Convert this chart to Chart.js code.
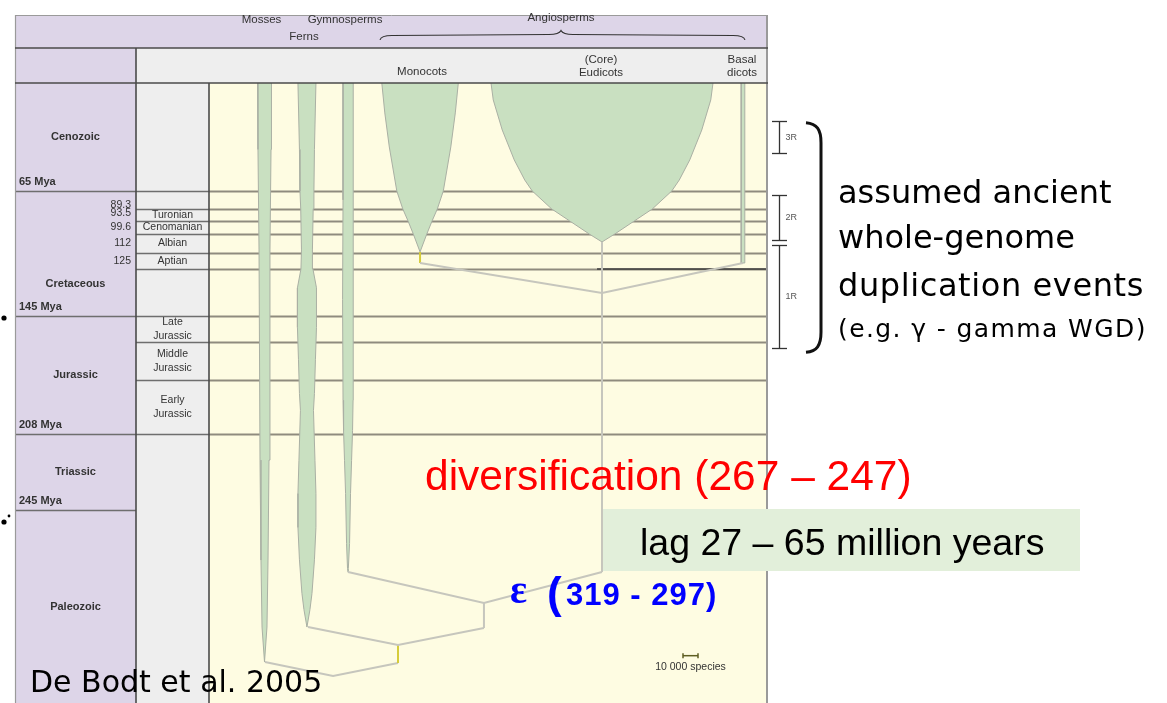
<!DOCTYPE html>
<html>
<head>
<meta charset="utf-8">
<title>Plant lineages through geological time</title>
<script src="https://cdn.jsdelivr.net/npm/chart.js@4.4.1/dist/chart.umd.min.js"></script>
<style>
html,body{margin:0;padding:0;background:#ffffff;overflow:hidden;}
#wrap{position:relative;width:1167px;height:703px;}
canvas{display:block;}
</style>
</head>
<body>
<div id="wrap"><canvas id="chart" width="1167" height="703"></canvas></div>
<script>
// ====================== DATA ======================
// geological time scale, Mya
const eraNames      = ['Cenozoic', 'Cretaceous', 'Jurassic', 'Triassic', 'Paleozoic'];
const eraStart      = [0, 65, 145, 208, 245];
const eraEnd        = [65, 145, 208, 245, 400];
const eraBaseLabels = ['65 Mya', '145 Mya', '208 Mya', '245 Mya', ''];
const stageNames    = ['Turonian', 'Cenomanian', 'Albian', 'Aptian', 'Late\nJurassic', 'Middle\nJurassic', 'Early\nJurassic'];
const stageStart    = [89.3, 93.5, 99.6, 112, 145, 161, 176];
const stageEnd      = [93.5, 99.6, 112, 125, 161, 176, 208];
const cretaceousTicks = [89.3, 93.5, 99.6, 112, 125];
const boundaryAges  = [65, 89.3, 93.5, 99.6, 112, 125, 145, 161, 176, 208];

// lineages: lane on the species axis (thousand species) and richness through time
const lineageNames   = ['Mosses', 'Ferns', 'Gymnosperms', 'Monocots', 'Eudicots', 'Basal dicots'];
const lineageHeaders = [['Mosses'], ['Ferns'], ['Gymnosperms'], ['Monocots'], ['(Core)', 'Eudicots'], ['Basal', 'dicots']];
const lineageLane    = [37, 65.3, 92.7, 140.7, 262, 356];

const mossAges    = [0, 40, 110, 220.7, 285.2, 339, 367];
const mossSpecies = [9.3, 8.7, 7.3, 6, 4.7, 3.3, 0];
const fernAges    = [0, 40, 65, 89, 110, 125, 133, 152, 168, 184, 194, 221, 237, 259, 285, 312, 325, 339];
const fernSpecies = [12, 10, 9.3, 8.3, 7.3, 8, 12.7, 12.7, 11.3, 10, 8.7, 10.7, 12, 12, 10, 6.7, 4, 0];
const gymnoAges    = [0, 77, 138, 188, 206, 221, 237, 272, 292, 295];
const gymnoSpecies = [6.7, 6.7, 7.3, 6.7, 6, 4.7, 3.3, 2, 0.7, 0];
const monocotAges    = [0, 18, 38.5, 65, 89.3, 93.5, 99.6, 111.3];
const monocotSpecies = [51, 47, 41, 31, 23, 16, 9, 0];
const eudicotAges    = [0, 10.2, 28.3, 46.3, 58.4, 65, 89.3, 93.5, 99.6, 104.8];
const eudicotSpecies = [148, 145, 133, 117, 103, 93, 67, 43, 17, 0];
const basalAges    = [0, 120.1];
const basalSpecies = [2.4, 2.4];

// phylogeny branches: [lane, age]
const angioJoin    = [[140.7, 120.1], [262, 135.2], [356, 120.1]];
const monocotStem  = [[140.7, 111.3], [140.7, 120.1]];
const eudicotStem  = [[262, 104.8], [262, 294.8]];
const seedJoin     = [[92.7, 294.8], [183.3, 319.7], [262, 294.8]];
const seedStem     = [[183.3, 319.7], [183.3, 339.8]];
const vascularJoin = [[66, 339], [126, 353.4], [183.3, 339.8]];
const vascularStem = [[126, 353.4], [126, 367.9]];
const rootJoin     = [[37.3, 367], [82.7, 378.3], [126, 367.9]];
const aptianMark   = [[258.7, 125], [371.3, 125]];

// whole-genome duplication ranges (Mya)
const wgdLabels = ['3R', '2R', '1R'];
const wgdFrom   = [22.7, 70.4, 106.8];
const wgdTo     = [42.3, 103.5, 163.5];
const wgdLane   = 380;

// scale bar: 10 000 species
const scaleBarSpecies = 10;
const scaleBarLane    = 316;
const scaleBarAge     = 362;

// ====================== LAYOUT / STYLE ======================
// the schematic time axis: pixel height of each interval between breaks
const axisBreaks = [0, 65, 89.3, 93.5, 99.6, 112, 125, 145, 161, 176, 208, 245, 400];
const axisRowPx  = [108, 18, 12, 13, 19, 16, 47, 26, 38, 54, 76, 193];
const axisCum = [0];
axisRowPx.forEach((h, i) => axisCum.push(axisCum[i] + h));
const axisTotal = axisCum[axisCum.length - 1];
function ageToFrac(v) {
  const n = axisBreaks.length;
  let i = 0;
  if (v <= axisBreaks[0]) i = 0;
  else if (v >= axisBreaks[n - 1]) i = n - 2;
  else { while (i < n - 2 && v > axisBreaks[i + 1]) i++; }
  const t = (v - axisBreaks[i]) / (axisBreaks[i + 1] - axisBreaks[i]);
  return (axisCum[i] + t * axisRowPx[i]) / axisTotal;
}
function fracToAge(f) {
  const px = f * axisTotal;
  let i = 0;
  while (i < axisRowPx.length - 1 && px > axisCum[i + 1]) i++;
  const t = (px - axisCum[i]) / axisRowPx[i];
  return axisBreaks[i] + t * (axisBreaks[i + 1] - axisBreaks[i]);
}

class GeoScale extends Chart.LinearScale {
  getPixelForValue(value) {
    return this.top + ageToFrac(value) * (this.bottom - this.top);
  }
  getValueForPixel(pixel) {
    return fracToAge((pixel - this.top) / (this.bottom - this.top));
  }
}
GeoScale.id = 'geo';
GeoScale.defaults = Chart.LinearScale.defaults;
Chart.register(GeoScale);

const PURPLE = '#ddd5e8', GRAY = '#eeeeee', YELLOW = '#fefce2', GREEN = '#c9e0c1';
const BRANCH = '#c6c6bd', STEMY = '#d6cc3a', BOUND = '#8f8b7e', FRAME = '#4a4a4a';
const SANS = '"Liberation Sans", Arial, sans-serif';
const F = { left: 15, top: 15, headMid: 48, eraRight: 136, right: 768 };

function spindle(lane, ages, spp) {
  const left = ages.map((a, i) => ({ x: lane - spp[i] / 2, y: a }));
  const right = ages.map((a, i) => ({ x: lane + spp[i] / 2, y: a })).reverse();
  return left.concat(right);
}
const toPts = arr => arr.map(p => ({ x: p[0], y: p[1] }));

function shapeDS(label, data) {
  return { label, data, fill: 'shape', backgroundColor: GREEN, borderColor: '#aab0a4',
           borderWidth: 1, pointRadius: 0, pointHoverRadius: 0, tension: 0, order: 5 };
}
function branchDS(label, pts, color) {
  return { label, data: toPts(pts), fill: false, borderColor: color || BRANCH, borderWidth: 2,
           pointRadius: 0, pointHoverRadius: 0, tension: 0, order: 1 };
}

const datasets = [
  shapeDS('Mosses', spindle(lineageLane[0], mossAges, mossSpecies)),
  shapeDS('Ferns', spindle(lineageLane[1], fernAges, fernSpecies)),
  shapeDS('Gymnosperms', spindle(lineageLane[2], gymnoAges, gymnoSpecies)),
  shapeDS('Monocots', spindle(lineageLane[3], monocotAges, monocotSpecies)),
  shapeDS('Eudicots', spindle(lineageLane[4], eudicotAges, eudicotSpecies)),
  shapeDS('Basal dicots', spindle(lineageLane[5], basalAges, basalSpecies)),
  branchDS('angioJoin', angioJoin),
  branchDS('monocotStem', monocotStem, STEMY),
  branchDS('eudicotStem', eudicotStem),
  branchDS('seedJoin', seedJoin),
  branchDS('seedStem', seedStem),
  branchDS('vascularJoin', vascularJoin),
  branchDS('vascularStem', vascularStem, STEMY),
  branchDS('rootJoin', rootJoin),
  { label: 'aptianMark', data: toPts(aptianMark), borderColor: '#3c3c3c', borderWidth: 1.6,
    pointRadius: 0, pointHoverRadius: 0, fill: false, order: 6 },
  { label: 'scaleBar', data: [{ x: scaleBarLane, y: scaleBarAge }, { x: scaleBarLane + scaleBarSpecies, y: scaleBarAge }],
    borderColor: '#5e5e22', borderWidth: 1.5, pointStyle: 'line', pointRotation: 90, pointRadius: 2.5,
    pointHoverRadius: 2.5, pointBorderColor: '#5e5e22', pointBorderWidth: 1.5, fill: false, order: 0 }
];

function text(ctx, s, x, y, font, color, align, base, spacing) {
  ctx.font = font; ctx.fillStyle = color || '#333';
  ctx.textAlign = align || 'center'; ctx.textBaseline = base || 'middle';
  if ('letterSpacing' in ctx) ctx.letterSpacing = spacing || '0px';
  ctx.fillText(s, x, y);
  if ('letterSpacing' in ctx) ctx.letterSpacing = '0px';
}
function hline(ctx, x1, x2, yy, color, w) {
  ctx.beginPath(); ctx.strokeStyle = color; ctx.lineWidth = w;
  ctx.moveTo(x1, yy); ctx.lineTo(x2, yy); ctx.stroke();
}
function vline(ctx, xx, y1, y2, color, w) {
  ctx.beginPath(); ctx.strokeStyle = color; ctx.lineWidth = w;
  ctx.moveTo(xx, y1); ctx.lineTo(xx, y2); ctx.stroke();
}

const framePlugin = {
  id: 'geoFrame',
  beforeDraw(chart) {
    const { ctx, chartArea: ca } = chart;
    const H = chart.height;
    ctx.save();
    ctx.fillStyle = '#ffffff'; ctx.fillRect(0, 0, chart.width, H);
    ctx.fillStyle = PURPLE;
    ctx.fillRect(F.left, F.top, F.right - F.left, F.headMid - F.top);
    ctx.fillRect(F.left, F.headMid, F.eraRight - F.left, H - F.headMid);
    ctx.fillStyle = GRAY;
    ctx.fillRect(F.eraRight, F.headMid, F.right - F.eraRight, ca.top - F.headMid);
    ctx.fillRect(F.eraRight, ca.top, ca.left - F.eraRight, H - ca.top);
    ctx.fillStyle = YELLOW;
    ctx.fillRect(ca.left, ca.top, ca.right - ca.left, H - ca.top);
    ctx.restore();
  },
  beforeDatasetsDraw(chart) {
    const { ctx, chartArea: ca, scales: { y } } = chart;
    ctx.save();
    boundaryAges.forEach(a => {
      const py = Math.round(y.getPixelForValue(a)) + 0.5;
      hline(ctx, ca.left, ca.right, py, BOUND, 1.8);
      hline(ctx, F.eraRight, ca.left, py, '#6e6e6e', 1.6);
    });
    eraEnd.slice(0, 4).forEach(a => {
      const py = Math.round(y.getPixelForValue(a)) + 0.5;
      hline(ctx, F.left, F.eraRight, py, '#6e6e6e', 1.6);
    });
    ctx.restore();
  },
  afterDatasetsDraw(chart) {
    const { ctx, chartArea: ca, scales: { x, y } } = chart;
    const H = chart.height;
    ctx.save();
    // frame
    hline(ctx, F.left, F.right, F.top + 0.5, '#9a9a9a', 1);
    vline(ctx, F.left + 0.5, F.top, H, '#9a9a9a', 1.2);
    vline(ctx, F.right - 1, F.top, H, '#9a9a9a', 2);
    hline(ctx, F.left, F.right, F.headMid, FRAME, 1.6);
    hline(ctx, F.left, F.right, ca.top, FRAME, 1.6);
    vline(ctx, F.eraRight, F.headMid, H, FRAME, 1.6);
    vline(ctx, ca.left, ca.top, H, FRAME, 1.6);

    // header: lineage groups
    const f11 = `11.5px ${SANS}`;
    const headRow1 = { Mosses: 20, Ferns: 37, Gymnosperms: 20 };
    lineageHeaders.forEach((lines, i) => {
      const cx = x.getPixelForValue(lineageLane[i]) - (i < 3 ? 3 : 0);
      if (i < 3) {
        text(ctx, lines[0], cx, headRow1[lineageNames[i]], f11, '#333');
      } else if (lines.length === 1) {
        text(ctx, lines[0], cx + 2, 72, f11, '#333');
      } else {
        text(ctx, lines[0], cx - 1, 60, f11, '#333');
        text(ctx, lines[1], cx - 1, 73, f11, '#333');
      }
    });
    // Angiosperms brace
    const bL = 380, bR = 745, bM = 561;
    text(ctx, 'Angiosperms', bM, 18, f11, '#333');
    ctx.beginPath(); ctx.strokeStyle = '#333'; ctx.lineWidth = 1.1;
    ctx.moveTo(bL, 40); ctx.quadraticCurveTo(bL + 1, 35.5, bL + 12, 35.5);
    ctx.lineTo(bM - 12, 34.5); ctx.quadraticCurveTo(bM - 2, 34.5, bM, 30.5);
    ctx.quadraticCurveTo(bM + 2, 34.5, bM + 12, 34.5);
    ctx.lineTo(bR - 12, 35.5); ctx.quadraticCurveTo(bR - 1, 35.5, bR, 40);
    ctx.stroke();

    // eras
    const fb = `bold 11px ${SANS}`;
    eraNames.forEach((n, i) => {
      let cy = (y.getPixelForValue(eraStart[i]) + y.getPixelForValue(eraEnd[i])) / 2;
      if (n === 'Cretaceous') cy = y.getPixelForValue(125) + 15;
      text(ctx, n, (F.left + F.eraRight) / 2, cy, fb, '#333');
      if (eraBaseLabels[i]) text(ctx, eraBaseLabels[i], F.left + 4, y.getPixelForValue(eraEnd[i]) - 9, fb, '#333', 'left');
    });
    // cretaceous stage ages
    const f10 = `10.5px ${SANS}`;
    cretaceousTicks.forEach((a, i) => {
      let cy;
      if (i === 0) cy = y.getPixelForValue(a) - 4;
      else cy = (y.getPixelForValue(cretaceousTicks[i - 1]) + y.getPixelForValue(a)) / 2 - (i === 1 ? 2 : 0);
      text(ctx, String(a), F.eraRight - 5, cy, f10, '#333', 'right');
    });
    // stages
    stageNames.forEach((n, i) => {
      const cy = (y.getPixelForValue(stageStart[i]) + y.getPixelForValue(stageEnd[i])) / 2;
      const lines = n.split('\n');
      const cx = (F.eraRight + ca.left) / 2;
      lines.forEach((l, k) => text(ctx, l, cx, cy + (k - (lines.length - 1) / 2) * 14, f10, '#333'));
    });

    // scale bar label
    text(ctx, '10 000 species', x.getPixelForValue(scaleBarLane + scaleBarSpecies / 2), y.getPixelForValue(scaleBarAge) + 11, `10.5px ${SANS}`, '#333');

    // WGD ranges
    const wx = Math.round(x.getPixelForValue(wgdLane)) + 0.5;
    wgdLabels.forEach((lab, i) => {
      const y1 = Math.round(y.getPixelForValue(wgdFrom[i])) + 0.5;
      const y2 = Math.round(y.getPixelForValue(wgdTo[i])) + 0.5;
      vline(ctx, wx, y1, y2, '#333', 1.3);
      hline(ctx, wx - 7.5, wx + 7.5, y1, '#333', 1.3);
      hline(ctx, wx - 7.5, wx + 7.5, y2, '#333', 1.3);
      text(ctx, lab, wx + 6, (y1 + y2) / 2, `9px ${SANS}`, '#555', 'left');
    });
    // big bracket
    const top = y.getPixelForValue(wgdFrom[0]) + 2, bot = y.getPixelForValue(wgdTo[2]) + 4;
    ctx.beginPath(); ctx.strokeStyle = '#111'; ctx.lineWidth = 3;
    ctx.moveTo(806, top); ctx.bezierCurveTo(817, top + 1, 821, top + 7, 821, top + 20);
    ctx.lineTo(821, bot - 20); ctx.bezierCurveTo(821, bot - 7, 817, bot - 1, 806, bot);
    ctx.stroke();

    const dv = '"DejaVu Sans", Verdana, sans-serif';
    text(ctx, 'assumed ancient', 838, 203, `32px ${dv}`, '#000', 'left', 'alphabetic');
    text(ctx, 'whole-genome', 838, 248, `32px ${dv}`, '#000', 'left', 'alphabetic');
    text(ctx, 'duplication events', 838, 296, `32px ${dv}`, '#000', 'left', 'alphabetic', '0.6px');
    text(ctx, '(e.g. \u03b3 - gamma WGD)', 838, 337, `25px ${dv}`, '#000', 'left', 'alphabetic', '1.4px');

    // diversification annotation
    text(ctx, 'diversification (267 \u2013 247)', 425, 490, `42.5px ${SANS}`, '#ff0000', 'left', 'alphabetic');
    ctx.fillStyle = '#e2efda'; ctx.fillRect(603, 509, 477, 62);
    text(ctx, 'lag 27 \u2013 65 million years', 640, 555, `37.5px ${SANS}`, '#000', 'left', 'alphabetic');
    text(ctx, '\u03b5', 510, 603, `bold 40px "Liberation Serif", serif`, '#0000ff', 'left', 'alphabetic');
    text(ctx, '(', 547, 608, `bold 44px ${SANS}`, '#0000ff', 'left', 'alphabetic');
    text(ctx, '319 - 297)', 566, 605, `bold 31px ${SANS}`, '#0000ff', 'left', 'alphabetic', '1px');

    text(ctx, 'De Bodt et al. 2005', 30, 692, `30px ${dv}`, '#000', 'left', 'alphabetic');

    // stray slide bullets at the left edge
    ctx.fillStyle = '#000';
    [[4, 318, 2.6], [4, 522, 2.6], [9, 516, 1.4]].forEach(d => { ctx.beginPath(); ctx.arc(d[0], d[1], d[2], 0, Math.PI * 2); ctx.fill(); });
    ctx.restore();
  }
};

new Chart(document.getElementById('chart'), {
  type: 'line',
  data: { datasets },
  options: {
    responsive: false,
    animation: false,
    devicePixelRatio: 1,
    events: [],
    layout: { autoPadding: false, padding: { left: 209, right: 1167 - 766, top: 83, bottom: 0 } },
    scales: {
      x: { type: 'linear', min: 0, max: (766 - 209) / 1.5, display: false },
      y: { type: 'geo', min: 0, max: 400, display: false }
    },
    plugins: { legend: { display: false }, tooltip: { enabled: false } }
  },
  plugins: [framePlugin]
});
</script>
</body>
</html>
